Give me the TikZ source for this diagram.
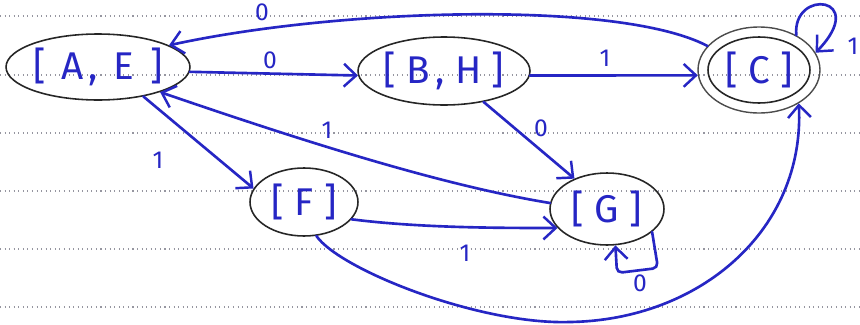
\documentclass[tikz,border=0pt]{standalone}
\usepackage{fontspec}
\setmainfont{Fira Sans}
\usetikzlibrary{shapes.geometric,arrows.meta}
\definecolor{handblue}{RGB}{38,38,196}
\definecolor{rule}{RGB}{150,150,160}
\begin{document}
\begin{tikzpicture}[x=0.02cm,y=-0.02cm,
  statebox/.style={ellipse, draw=black!85, line width=0.9pt, inner sep=0pt, text=handblue, font=\fontsize{22}{24}\selectfont},
  outerbox/.style={ellipse, draw=black!70, line width=0.8pt, inner sep=0pt},
  edge/.style={draw=handblue, line width=1.5pt, line cap=round, -{Straight Barb[length=7pt,width=13pt,line width=1.4pt]}},
  lbl/.style={text=handblue, font=\fontsize{14}{14}\selectfont, inner sep=0pt},
  ruleline/.style={draw=rule, dotted, line width=0.6pt}]
\useasboundingbox (0,0) rectangle (860,325);
\fill[white] (0,0) rectangle (860,325);
% ruled paper
\foreach \yy in {16,75,133,191,249,307}
  \draw[ruleline] (0,\yy) -- (860,\yy);
% states
\node[statebox, minimum width=3.68cm, minimum height=1.32cm] (AE) at (98,67) {[\hspace{9pt}A\hspace{3pt},\hspace{9pt}E\hspace{9pt}]};
\node[statebox, minimum width=3.44cm, minimum height=1.36cm] (BH) at (444,71) {[\hspace{6pt}B\hspace{3pt},\hspace{6pt}H\hspace{6pt}]};
\node[outerbox, minimum width=2.44cm, minimum height=1.72cm] (Co) at (759,70) {};
\node[statebox, minimum width=2.04cm, minimum height=1.32cm] (C) at (759,70) {[\hspace{6pt}C\hspace{6pt}]};
\node[statebox, minimum width=2.16cm, minimum height=1.36cm] (F) at (304,202) {[\hspace{6pt}F\hspace{6pt}]};
\node[statebox, minimum width=2.28cm, minimum height=1.44cm] (G) at (607,209) {[\hspace{6pt}G\hspace{6pt}]};
% transitions
\draw[edge] (AE.-3) -- (BH.183);
\draw[edge] (Co.155) .. controls (620,0) and (340,8) .. (AE.17);
\draw[edge] (BH.-3) -- (Co.185);
\draw[edge] (Co.43) .. controls (792,-12) and (870,-4) .. (Co.17);
\draw[edge] (AE.-33) -- (F.165);
\draw[edge] (G.174) .. controls (440,185) and (300,140) .. (AE.-22);
\draw[edge] (BH.-38) -- (G.137);
\draw[edge] (F.-20) .. controls (420,228) and (500,228) .. (G.201);
\draw[edge, rounded corners=3pt] (G.-27) -- (658,268) -- (617,273) -- (G.-77);
\draw[edge] (F.-70) .. controls (340,270) and (480,325) .. (570,322)
  .. controls (700,320) and (805,230) .. (Co.-40);
% labels
\node[lbl] (l1) at (270,60) {0};
\node[lbl] (l2) at (262,12) {0};
\node[lbl] (l3) at (605,58) {1};
\node[lbl] (l4) at (853,46) {1};
\node[lbl] (l5) at (158,160) {1};
\node[lbl] (l6) at (327,130) {1};
\node[lbl] (l7) at (541,128) {0};
\node[lbl] (l8) at (465,253) {1};
\node[lbl] (l9) at (640,283) {0};
\end{tikzpicture}
\end{document}
